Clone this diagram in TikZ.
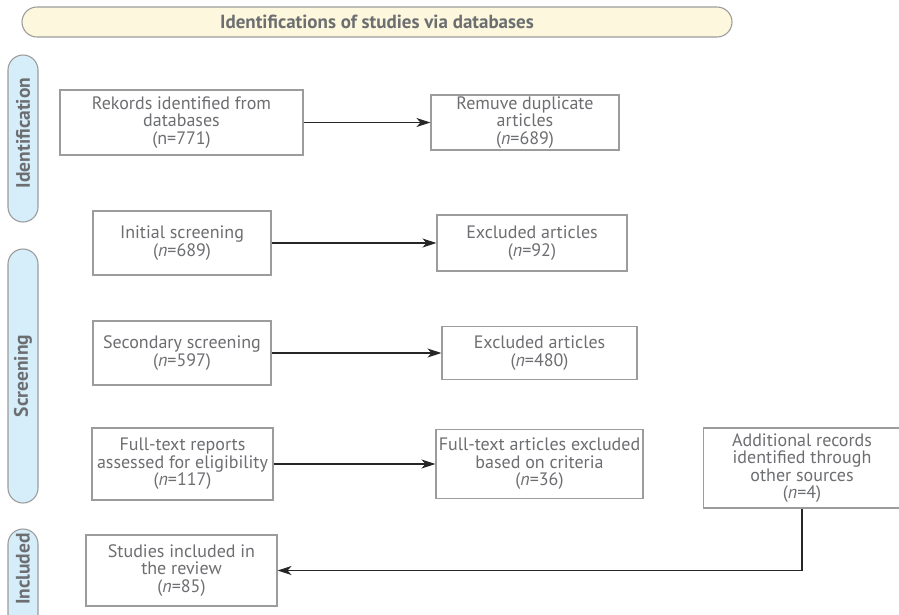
\documentclass[tikz,border=0pt]{standalone}
\usepackage{fontspec}
\setmainfont{PT Sans}
\usepackage{tikz}
\usepackage{xcolor}
\usetikzlibrary{arrows.meta, positioning, calc}

\definecolor{txtgray}{HTML}{6D6E71}
\definecolor{linegray}{HTML}{9C9C9C}
\definecolor{tabblue}{HTML}{D6EEFA}
\definecolor{bannerylw}{HTML}{FDF8DD}

\tikzset{
    box/.style={draw=linegray, line width=1.1pt, fill=white, align=center, text=txtgray,
        font=\fontsize{18}{17.5}\selectfont, inner sep=1pt},
    arr/.style={-{Stealth[length=14pt, width=9pt, inset=4pt]}, line width=1.2pt, black!85},
    tab/.style={draw=linegray, fill=tabblue, line width=1.1pt, rounded corners=15pt},
    tablabel/.style={rotate=90, text=txtgray, font=\fontsize{19.5}{20}\selectfont\bfseries}
}

\begin{document}
\begin{tikzpicture}[x=1pt, y=-1pt]
\useasboundingbox (0,0) rectangle (899,614);

% Title banner
\draw[draw=linegray, fill=bannerylw, line width=1.1pt, rounded corners=15pt] (22,7) rectangle (732,37);
\node[text=txtgray, font=\fontsize{19}{20}\selectfont\bfseries] (title) at (377,22) {Identifications of studies via databases};

% Side tabs
\draw[tab] (8,55) rectangle (38,222);
\node[tablabel] (tabid) at (23,133) {Identification};
\draw[tab] (8,249) rectangle (38,503);
\node[tablabel] (tabscr) at (23,376) {Screening};
\draw[tab] (8,529) rectangle (38,640);
\node[tablabel] (tabinc) at (23,569) {Included};

% Identification
\node[box, minimum width=243, minimum height=65] (rekords) at (181.5,122.5) {Rekords identified from\\databases\\(n=771)};
\node[box, minimum width=188, minimum height=55] (dupl) at (525,122.5) {Remuve duplicate\\articles\\(\textit{n}=689)};

% Screening
\node[box, minimum width=178, minimum height=64] (initial) at (182,243) {Initial screening\\(\textit{n}=689)};
\node[box, minimum width=190, minimum height=56] (excla) at (532,243) {Excluded articles\\(\textit{n}=92)};
\node[box, minimum width=178, minimum height=64] (second) at (182,353) {Secondary screening\\(\textit{n}=597)};
\node[box, minimum width=195, minimum height=53] (exclb) at (539.5,353) {Excluded articles\\(\textit{n}=480)};
\node[box, minimum width=181, minimum height=72] (fulltext) at (182.5,464) {Full-text reports\\assessed for eligibility\\(\textit{n}=117)};
\node[box, minimum width=207, minimum height=69] (exclc) at (539.5,464) {Full-text articles excluded\\based on criteria\\(\textit{n}=36)};
\node[box, minimum width=197, minimum height=80] (other) at (802,468) {Additional records\\identified through\\other sources\\(\textit{n}=4)};

% Included
\node[box, minimum width=191, minimum height=71] (studies) at (181.5,570.5) {Studies included in\\the review\\(\textit{n}=85)};

% Connectors
\draw[arr] (rekords) -- (dupl);
\draw[arr] (initial) -- (excla);
\draw[arr] (second) -- (exclb);
\draw[arr] (fulltext) -- (exclc);
\draw[arr] (other.south) |- (studies.east);
\end{tikzpicture}
\end{document}
